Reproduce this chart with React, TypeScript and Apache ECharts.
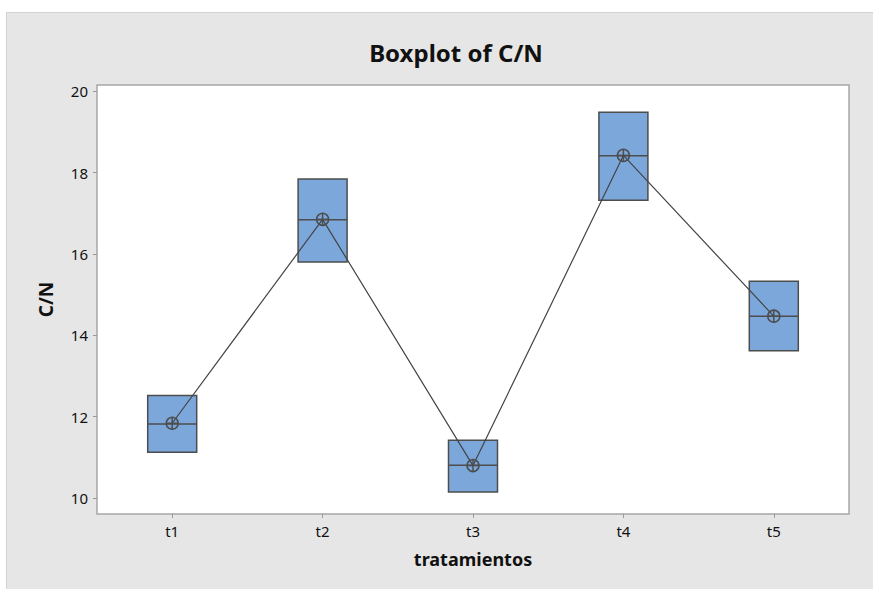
import React, { useEffect, useRef } from "react";
import * as echarts from "echarts";

const categories = ["t1", "t2", "t3", "t4", "t5"];
const q1 = [11.13, 15.8, 10.15, 17.32, 13.62];
const medians = [11.82, 16.84, 10.81, 18.41, 14.47];
const q3 = [12.52, 17.84, 11.42, 19.48, 15.33];
const means = [11.84, 16.85, 10.8, 18.42, 14.47];
const yTicks = [10, 12, 14, 16, 18, 20];

export default function App() {
  const ref = useRef<HTMLDivElement>(null);
  useEffect(() => {
    if (!ref.current) return;
    const chart = echarts.init(ref.current, null, { renderer: "svg" });
    const font = "'Noto Sans', 'Open Sans', sans-serif";
    const boxData = categories.map((_, i) => [q1[i], q1[i], medians[i], q3[i], q3[i]]);
    chart.setOption({
      animation: false,
      backgroundColor: "#e6e6e6",
      textStyle: { fontFamily: font },
      title: {
        text: "Boxplot of C/N",
        left: 444,
        top: 22,
        textAlign: "center",
        textStyle: { fontSize: 24, fontWeight: "bold", color: "#111", fontFamily: font },
      },
      grid: {
        left: 90,
        right: 24,
        top: 72,
        bottom: 75,
        show: true,
        backgroundColor: "#ffffff",
        borderColor: "#a6a6a6",
        borderWidth: 1.5,
      },
      xAxis: {
        type: "category",
        data: categories,
        boundaryGap: true,
        name: "tratamientos",
        nameLocation: "middle",
        nameGap: 36,
        nameTextStyle: { fontSize: 18, fontWeight: "bold", color: "#111", fontFamily: font },
        axisLine: { show: false },
        axisTick: { show: true, alignWithLabel: true, length: 4, lineStyle: { color: "#999" } },
        axisLabel: { fontSize: 15, color: "#111", margin: 9, fontFamily: font },
        splitLine: { show: false },
      },
      yAxis: {
        type: "value",
        min: 9.61,
        max: 20.15,
        name: "C/N",
        nameLocation: "middle",
        nameGap: 42,
        nameTextStyle: { fontSize: 19, fontWeight: "bold", color: "#111", fontFamily: font },
        axisLine: { show: false },
        axisTick: { show: true, length: 4, lineStyle: { color: "#999" }, customValues: yTicks },
        axisLabel: { fontSize: 15, color: "#111", margin: 9, fontFamily: font, customValues: yTicks },
        splitLine: { show: false },
      },
      series: [
        {
          type: "boxplot",
          data: boxData,
          boxWidth: [49, 49],
          z: 2,
          itemStyle: { color: "#7ba7db", borderColor: "#4d4d4d", borderWidth: 1.5 },
        },
        {
          type: "line",
          data: means,
          symbol: "none",
          z: 3,
          lineStyle: { color: "#444", width: 1.2 },
        },
        {
          type: "custom",
          z: 4,
          data: means.map((m, i) => [i, m]),
          renderItem: (params: any, api: any) => {
            const p = api.coord([api.value(0), api.value(1)]);
            const r = 6;
            const st = { stroke: "#4d4d4d", lineWidth: 1.5, fill: "none" };
            return {
              type: "group",
              children: [
                { type: "circle", shape: { cx: p[0], cy: p[1], r }, style: st },
                { type: "line", shape: { x1: p[0], y1: p[1] - r, x2: p[0], y2: p[1] + r }, style: st },
                { type: "line", shape: { x1: p[0] - r, y1: p[1], x2: p[0] + r, y2: p[1] }, style: st },
              ],
            };
          },
        },
      ],
    });
    return () => chart.dispose();
  }, []);
  return (
    <div style={{ position: "fixed", left: 0, top: 0, width: 873, height: 589, background: "#fff" }}>
      <div
        ref={ref}
        style={{ position: "absolute", left: 6, top: 12, width: 867, height: 577, borderTop: "1px solid #d2d2d2", borderLeft: "1px solid #d2d2d2", boxSizing: "border-box" }}
      />
    </div>
  );
}
